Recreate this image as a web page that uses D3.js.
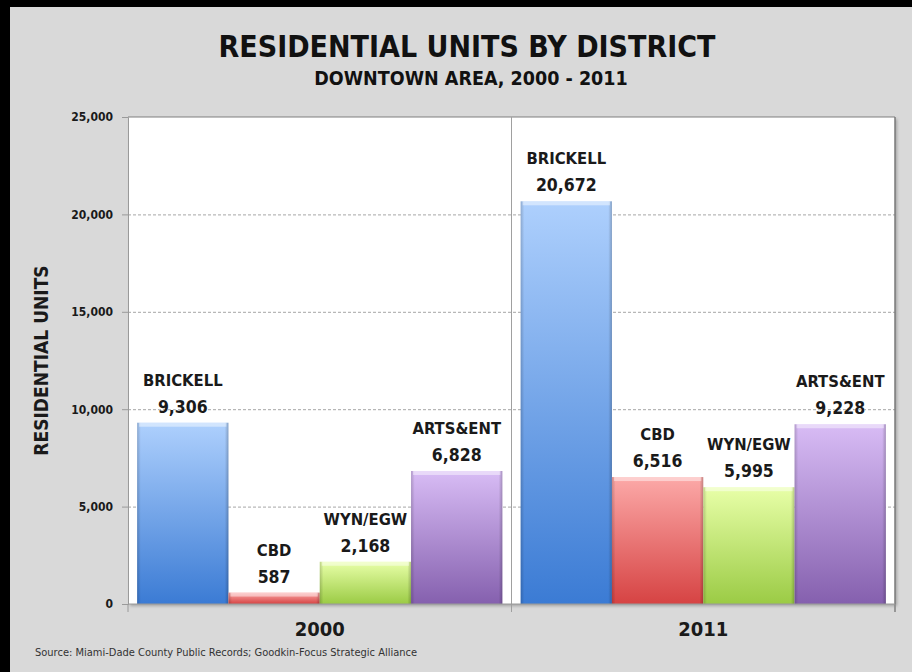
<!DOCTYPE html>
<html>
<head>
<meta charset="utf-8">
<script src="https://cdn.jsdelivr.net/npm/d3@7"></script>
<style>
  html, body { margin: 0; padding: 0; background: #fff; }
  svg { display: block; }
  .narrow { font-family: "Liberation Sans Narrow", "Arial Narrow", "DejaVu Sans Condensed", sans-serif; }
</style>
</head>
<body>
<svg id="chart" width="912" height="672"></svg>
<script>
// chart data
const years = ['2000', '2011'];
const districts = ['BRICKELL', 'CBD', 'WYN/EGW', 'ARTS&ENT'];
const units2000 = [9306, 587, 2168, 6828];
const units2011 = [20672, 6516, 5995, 9228];
const yTicks = [0, 5000, 10000, 15000, 20000, 25000];

// gradient stops per district: [top, bottom]
const districtColors = {
  'BRICKELL': ['#aed0fd', '#3b7bd4'],
  'CBD': ['#fca9a8', '#d64343'],
  'WYN/EGW': ['#e8ffa8', '#9bcb45'],
  'ARTS&ENT': ['#d8bcf5', '#8560ae']
};

const rows = years.map((y, i) => ({
  year: y,
  values: districts.map((d, j) => ({ year: y, district: d, value: (i === 0 ? units2000 : units2011)[j] }))
}));

const svg = d3.select('#chart');
const W = 912, H = 672;
const plot = { left: 128, right: 895, top: 117, bottom: 604 };

// frame: grey panel with black edge
svg.append('rect').attr('x', 0).attr('y', 0).attr('width', W).attr('height', H).attr('fill', '#d9d9d9');
svg.append('rect').attr('x', 0).attr('y', 0).attr('width', 10).attr('height', H).attr('fill', '#000');
svg.append('rect').attr('x', 0).attr('y', 0).attr('width', W).attr('height', 7).attr('fill', '#000');

const defs = svg.append('defs');
districts.forEach((d, i) => {
  const g = defs.append('linearGradient').attr('id', 'grad' + i)
    .attr('x1', 0).attr('y1', 0).attr('x2', 0).attr('y2', 1);
  g.append('stop').attr('offset', '0%').attr('stop-color', districtColors[d][0]);
  g.append('stop').attr('offset', '100%').attr('stop-color', districtColors[d][1]);
});
// horizontal shading for the bevelled look
const side = defs.append('linearGradient').attr('id', 'side')
  .attr('x1', 0).attr('y1', 0).attr('x2', 1).attr('y2', 0);
side.append('stop').attr('offset', '0%').attr('stop-color', '#000').attr('stop-opacity', 0.18);
side.append('stop').attr('offset', '4%').attr('stop-color', '#000').attr('stop-opacity', 0);
side.append('stop').attr('offset', '96%').attr('stop-color', '#000').attr('stop-opacity', 0);
side.append('stop').attr('offset', '100%').attr('stop-color', '#000').attr('stop-opacity', 0.22);

const filt = defs.append('filter').attr('id', 'shadow').attr('x', '-5%').attr('y', '-5%').attr('width', '110%').attr('height', '110%');
filt.append('feDropShadow').attr('dx', 2).attr('dy', 2).attr('stdDeviation', 1.5).attr('flood-color', '#000').attr('flood-opacity', 0.25);

// scales
const y = d3.scaleLinear().domain([0, 25000]).range([plot.bottom, plot.top]);
const x0 = d3.scaleBand().domain(years).range([plot.left, plot.right]);
const x1 = d3.scaleBand().domain(districts).range([0, x0.bandwidth()]).paddingInner(0).paddingOuter(0.1);

// plot background
svg.append('rect')
  .attr('x', plot.left).attr('y', plot.top)
  .attr('width', plot.right - plot.left).attr('height', plot.bottom - plot.top)
  .attr('fill', '#fff').attr('filter', 'url(#shadow)');

// gridlines
svg.append('g')
  .attr('transform', `translate(${plot.left},0)`)
  .call(d3.axisLeft(y).tickValues(yTicks.slice(1, -1)).tickSize(-(plot.right - plot.left)).tickFormat(''))
  .call(g => g.select('.domain').remove())
  .call(g => g.selectAll('line').attr('stroke', '#a6a6a6').attr('stroke-dasharray', '3,2'));

// top / right border
svg.append('line').attr('x1', plot.left).attr('x2', plot.right).attr('y1', plot.top).attr('y2', plot.top)
  .attr('stroke', '#808080').attr('stroke-width', 1.2);
svg.append('line').attr('x1', plot.right).attr('x2', plot.right).attr('y1', plot.top).attr('y2', plot.bottom + 8)
  .attr('stroke', '#7a7a7a').attr('stroke-width', 1.5);

// group divider lines at category edges
const edges = years.map(v => x0(v)).concat([x0.range()[1]]);
svg.append('g').selectAll('line')
  .data(edges.slice(1, -1))
  .join('line')
  .attr('x1', d => d).attr('x2', d => d)
  .attr('y1', plot.top).attr('y2', plot.bottom + 8)
  .attr('stroke', '#a0a0a0');

// bars
const groups = svg.append('g').selectAll('g')
  .data(rows)
  .join('g')
  .attr('transform', d => `translate(${x0(d.year)},0)`);

const bars = groups.selectAll('g')
  .data(d => d.values)
  .join('g');

bars.append('rect')
  .attr('x', d => x1(d.district))
  .attr('y', d => y(d.value))
  .attr('width', x1.bandwidth())
  .attr('height', d => y(0) - y(d.value))
  .attr('fill', d => `url(#grad${districts.indexOf(d.district)})`);
bars.append('rect')
  .attr('x', d => x1(d.district))
  .attr('y', d => y(d.value))
  .attr('width', x1.bandwidth())
  .attr('height', d => y(0) - y(d.value))
  .attr('fill', 'url(#side)');
// top highlight strip
bars.append('rect')
  .attr('x', d => x1(d.district) + 2)
  .attr('y', d => y(d.value))
  .attr('width', x1.bandwidth() - 4)
  .attr('height', d => Math.min(4, y(0) - y(d.value)))
  .attr('fill', '#fff').attr('opacity', 0.45);

// data labels
const fmt = d3.format(',');
bars.append('text')
  .attr('class', 'narrow')
  .attr('x', d => x1(d.district) + x1.bandwidth() / 2)
  .attr('y', d => y(d.value) - 37)
  .attr('text-anchor', 'middle')
  .attr('font-size', 16.5).attr('font-weight', 'bold').attr('fill', '#1a1a1a')
  .attr('stroke', '#fff').attr('stroke-width', 0.6).attr('paint-order', 'stroke')
  .text(d => d.district);
bars.append('text')
  .attr('class', 'narrow')
  .attr('x', d => x1(d.district) + x1.bandwidth() / 2)
  .attr('y', d => y(d.value) - 10)
  .attr('text-anchor', 'middle')
  .attr('font-size', 17.5).attr('font-weight', 'bold').attr('fill', '#1a1a1a')
  .attr('stroke', '#fff').attr('stroke-width', 0.6).attr('paint-order', 'stroke')
  .text(d => fmt(d.value));

// y axis
svg.append('g')
  .attr('transform', `translate(${plot.left},0)`)
  .call(d3.axisLeft(y).tickValues(yTicks).tickSize(6).tickPadding(9).tickFormat(fmt))
  .call(g => g.select('.domain').attr('stroke', '#9a9a9a'))
  .call(g => g.selectAll('.tick line').attr('stroke', '#9a9a9a'))
  .call(g => g.selectAll('text').attr('class', 'narrow')
    .attr('font-size', 12).attr('font-weight', 'bold').attr('fill', '#1a1a1a'));

// x axis
svg.append('line').attr('x1', plot.left).attr('x2', plot.right).attr('y1', plot.bottom).attr('y2', plot.bottom)
  .attr('stroke', '#9a9a9a');
svg.append('g').selectAll('line')
  .data([edges[0], edges[edges.length - 1]])
  .join('line')
  .attr('x1', d => d).attr('x2', d => d)
  .attr('y1', plot.bottom).attr('y2', plot.bottom + 8)
  .attr('stroke', '#9a9a9a');
svg.append('g')
  .attr('transform', `translate(0,${plot.bottom})`)
  .call(d3.axisBottom(x0).tickSize(0).tickPadding(18))
  .call(g => g.select('.domain').remove())
  .call(g => g.selectAll('text').attr('class', 'narrow')
    .attr('font-size', 20).attr('font-weight', 'bold').attr('fill', '#1a1a1a'));

// axis title
svg.append('text')
  .attr('class', 'narrow')
  .attr('transform', `translate(48,${(plot.top + plot.bottom) / 2}) rotate(-90)`)
  .attr('text-anchor', 'middle')
  .attr('font-size', 19).attr('font-weight', 'bold').attr('fill', '#1a1a1a')
  .text('RESIDENTIAL UNITS');

// titles
svg.append('text')
  .attr('class', 'narrow')
  .attr('x', 467).attr('y', 57)
  .attr('text-anchor', 'middle')
  .attr('font-size', 30).attr('font-weight', 'bold').attr('fill', '#111')
  .text('RESIDENTIAL UNITS BY DISTRICT');
svg.append('text')
  .attr('class', 'narrow')
  .attr('x', 471).attr('y', 85)
  .attr('text-anchor', 'middle')
  .attr('font-size', 19.5).attr('font-weight', 'bold').attr('fill', '#111')
  .text('DOWNTOWN AREA, 2000 - 2011');

// source note
svg.append('text')
  .attr('class', 'narrow')
  .attr('x', 35).attr('y', 656)
  .attr('font-size', 11).attr('fill', '#333')
  .text('Source: Miami-Dade County Public Records; Goodkin-Focus Strategic Alliance');
</script>
</body>
</html>
